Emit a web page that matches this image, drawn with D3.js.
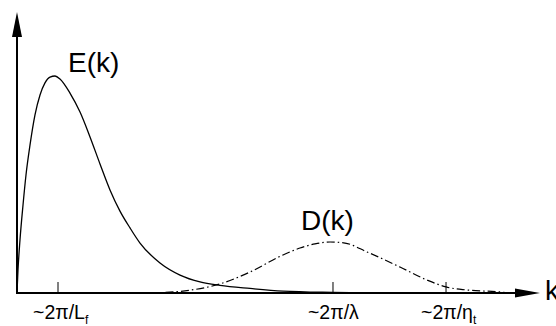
<!DOCTYPE html>
<html><head><meta charset="utf-8">
<script src="https://cdn.jsdelivr.net/npm/d3@7"></script>
<style>html,body{margin:0;padding:0;background:#fff;}svg{display:block;font-family:"Liberation Sans",Arial,sans-serif;}</style>
</head><body>
<svg id="c" width="556" height="326"></svg>
<script>
// E(k): energy spectrum
const eK = [0,0.019,0.057,0.115,0.172,0.249,0.344,0.44,0.535,0.631,0.727,0.822,1.013,1.205,1.396,1.587,1.778,1.969,2.161,2.352,2.734,3.117,3.499,3.881,4.455,5.086,6.042,7.32,9.4];
const eV = [0,0.106,0.245,0.407,0.546,0.685,0.824,0.916,0.972,0.999,1.004,0.99,0.925,0.837,0.722,0.597,0.477,0.379,0.301,0.231,0.139,0.083,0.051,0.035,0.021,0.009,0.003,0,0];
// D(k): dissipation spectrum
const dK = [2.543,3.174,3.881,4.455,5.086,5.411,5.698,5.985,6.272,6.692,7.323,7.839,8.203,8.604,9.235,9.426];
const dV = [0,0.009,0.042,0.097,0.176,0.208,0.227,0.236,0.231,0.19,0.12,0.06,0.028,0.014,0.005,0];
// ticks
const tickK = [0.784,6.042,8.203];
const tickMain = ["~2π/L","~2π/λ","~2π/η"];
const tickSub = ["f","","t"];
const curveLabels = ["E(k)","D(k)"];

const svg = d3.select("#c");
const x = d3.scaleLinear().domain([0,10]).range([17,540]);
const y = d3.scaleLinear().domain([0,1.3]).range([293,12]);

const line = d3.line().x(d=>x(d[0])).y(d=>y(d[1])).curve(d3.curveMonotoneX);

svg.append("path").datum(eK.map((k,i)=>[k,eV[i]]))
  .attr("d",line).attr("fill","none").attr("stroke","#000").attr("stroke-width",1.3);
svg.append("path").datum(dK.map((k,i)=>[k,dV[i]]))
  .attr("d",line).attr("fill","none").attr("stroke","#000").attr("stroke-width",1.2)
  .attr("stroke-dasharray","8,3,1.5,3");

// axes
const x0 = x(0), y0 = y(0);
svg.append("line").attr("x1",x0).attr("y1",y0+1).attr("x2",x0).attr("y2",y(1.3)+20)
  .attr("stroke","#000").attr("stroke-width",2);
svg.append("path").attr("d",`M${x0},${y(1.3)} L${x0-5},${y(1.3)+25} L${x0+5},${y(1.3)+25} Z`).attr("fill","#000");
svg.append("line").attr("x1",x0-1).attr("y1",y0).attr("x2",x(10)-20).attr("y2",y0)
  .attr("stroke","#000").attr("stroke-width",2);
svg.append("path").attr("d",`M${x(10)},${y0} L${x(10)-25},${y0-4.5} L${x(10)-25},${y0+4.5} Z`).attr("fill","#000");

// ticks
const tg = svg.append("g");
tickK.forEach((k,i)=>{
  tg.append("line").attr("x1",x(k)).attr("x2",x(k)).attr("y1",y0-11).attr("y2",y0)
    .attr("stroke","#000").attr("stroke-width",1);
  const t = tg.append("text").attr("x",x(k)-25).attr("y",319).attr("font-size",19.5).attr("fill","#000");
  t.append("tspan").text(tickMain[i]);
  if (tickSub[i]) t.append("tspan").attr("font-size",12).attr("dy",5).text(tickSub[i]);
});

svg.append("text").attr("x",68).attr("y",72).attr("font-size",28).text(curveLabels[0]);
svg.append("text").attr("x",301).attr("y",230).attr("font-size",28).text(curveLabels[1]);
svg.append("text").attr("x",545).attr("y",300).attr("font-size",28).text("k");
</script>
</body></html>
